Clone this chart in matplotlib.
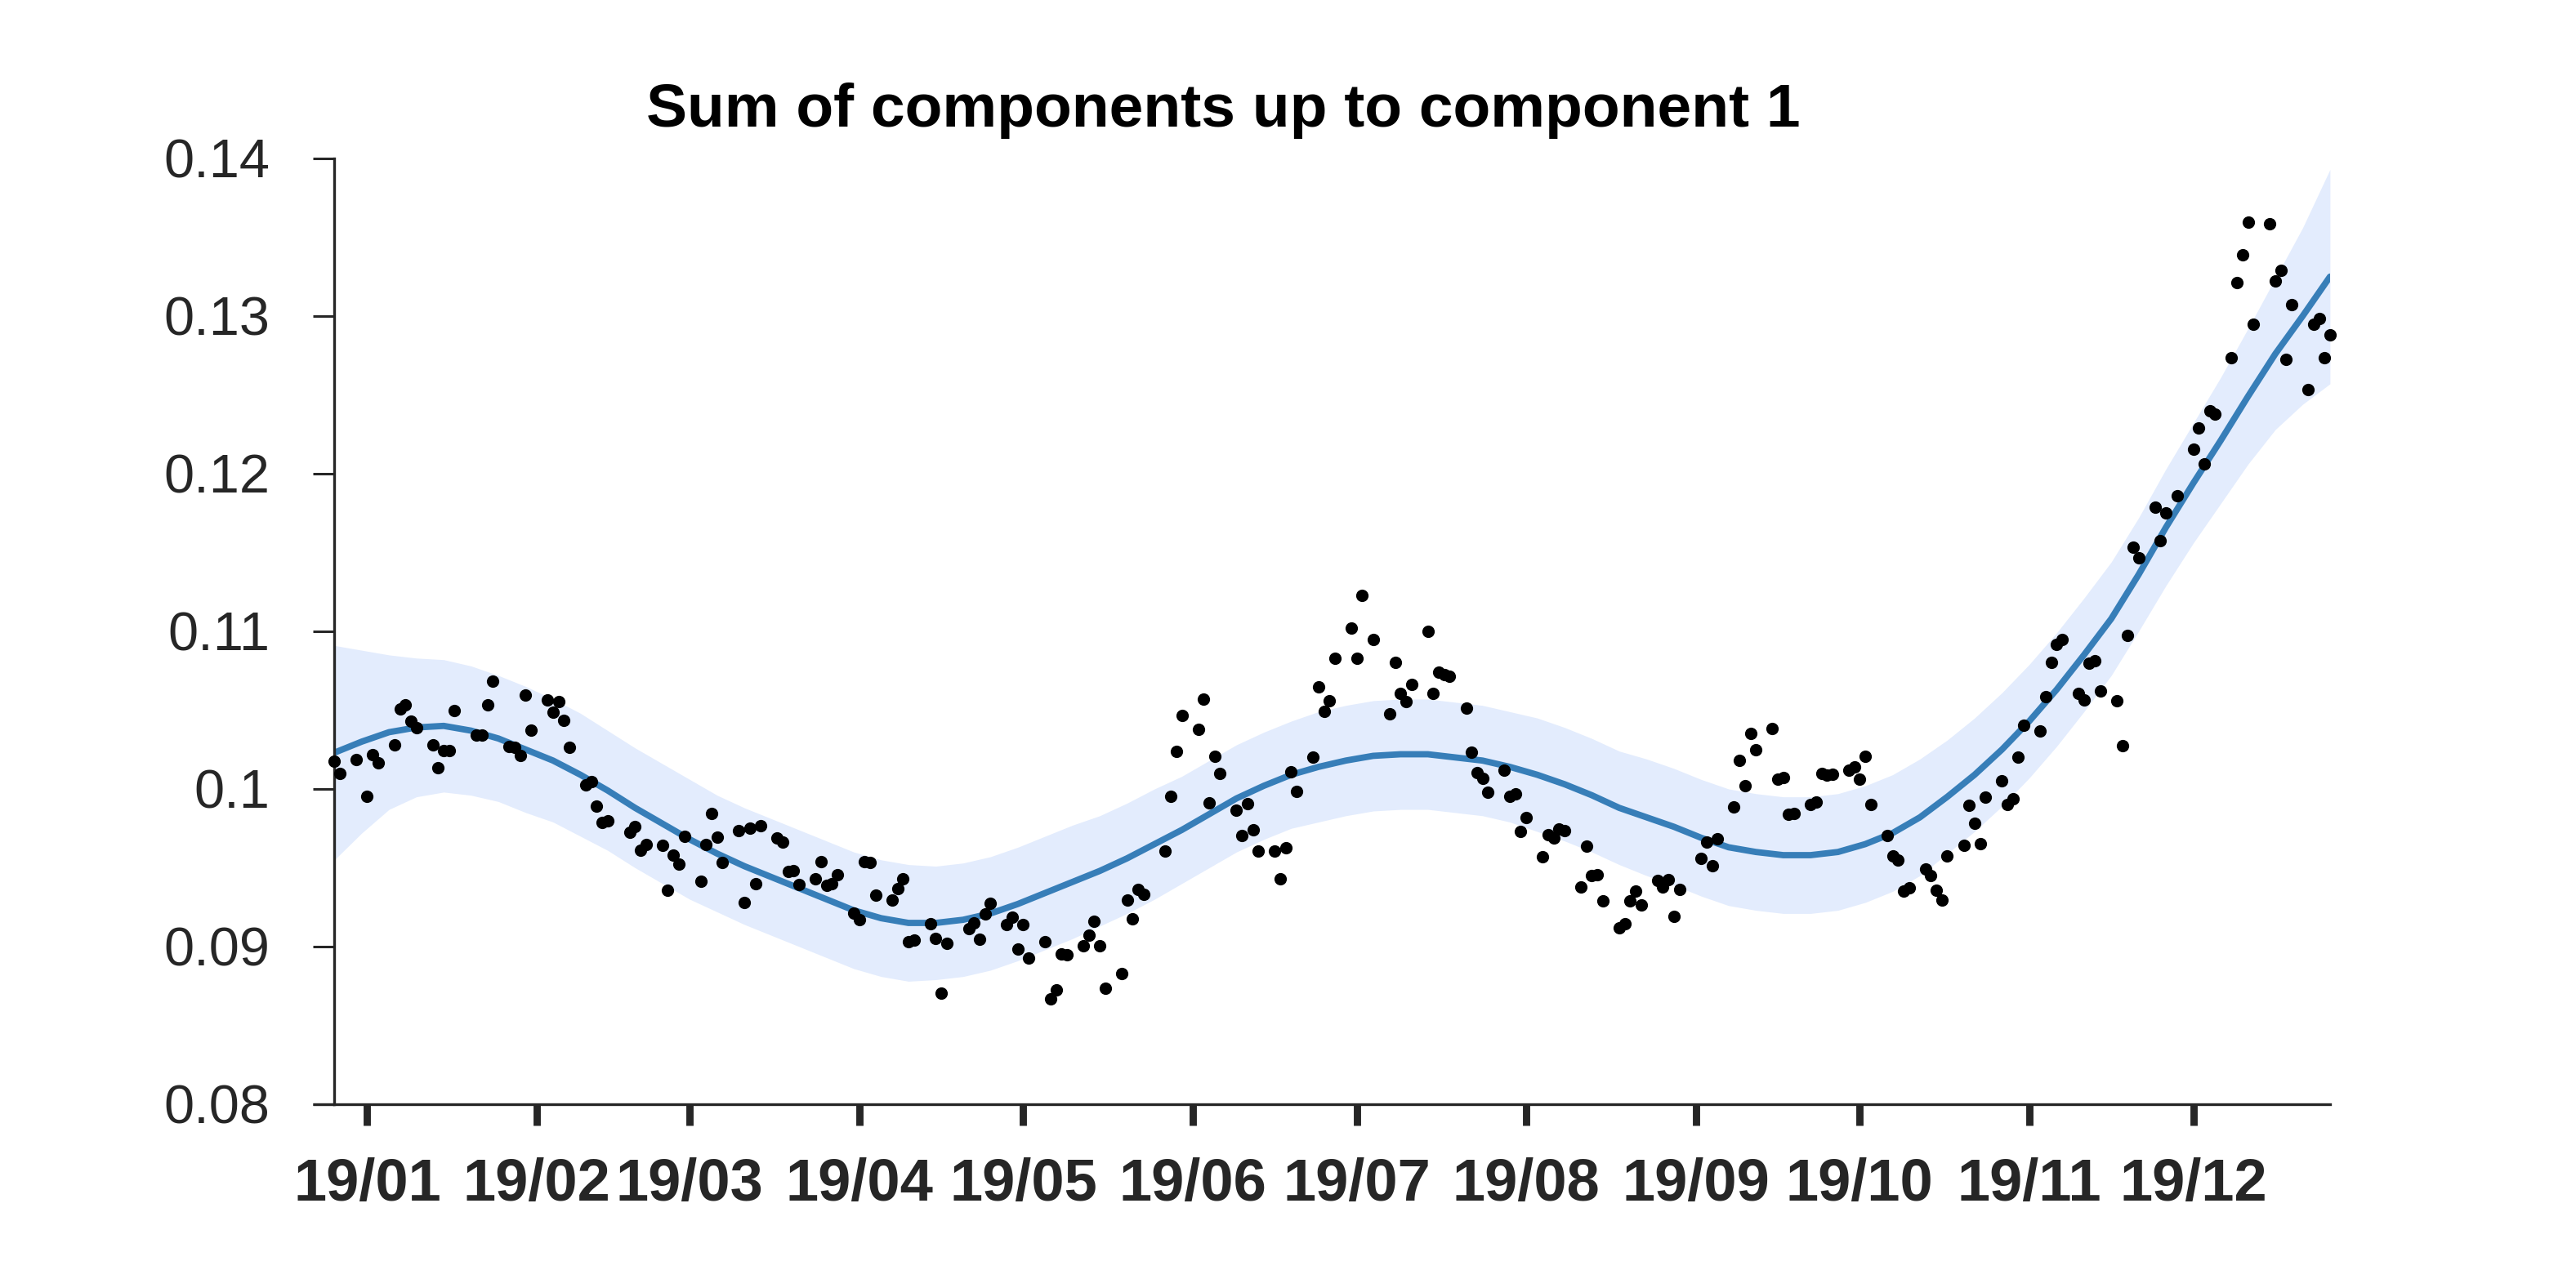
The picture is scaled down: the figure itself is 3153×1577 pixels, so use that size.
import numpy as np
import pandas as pd
import matplotlib
matplotlib.use("Agg")
import matplotlib.pyplot as plt
from matplotlib.lines import Line2D

plt.rcParams['font.family'] = ['Liberation Sans', 'DejaVu Sans']

# ---- data: observations (day offset from 2019-01-01, value) ----
obs_days = [-6, -5, -2, 0, 1, 2, 5, 6, 7, 8, 9, 12, 13, 14, 15, 16, 20, 21, 22, 23,
            26, 27, 28, 29, 30, 33, 34, 35, 36, 37, 40, 41, 42, 43, 44, 48, 49, 50, 51,
            54, 55, 56, 57, 58, 61, 62, 63, 64, 65, 68, 69, 70, 71, 72, 75, 76, 77, 78, 79,
            82, 83, 84, 85, 86, 89, 90, 91, 92, 93, 96, 97, 98, 99, 100, 103, 104, 105, 106,
            110, 111, 112, 113, 114, 117, 118, 119, 120, 121, 124, 125, 126, 127, 128,
            131, 132, 133, 134, 135, 138, 139, 140, 141, 142, 146, 147, 148, 149,
            152, 153, 154, 155, 156, 159, 160, 161, 162, 163, 166, 167, 168, 169, 170,
            173, 174, 175, 176, 177, 180, 181, 182, 184, 187, 188, 189, 190, 191,
            194, 195, 196, 197, 198, 201, 202, 203, 204, 205, 208, 209, 210, 211, 212,
            215, 216, 217, 218, 219, 222, 223, 224, 225, 226, 229, 230, 231, 232, 233,
            236, 237, 238, 239, 240, 244, 245, 246, 247, 250, 251, 252, 253, 254,
            257, 258, 259, 260, 261, 264, 265, 266, 267, 268, 271, 272, 273, 274, 275,
            278, 279, 280, 281, 282, 285, 286, 287, 288, 289, 292, 293, 294, 295, 296,
            299, 300, 301, 302, 303, 306, 307, 308, 309, 310, 313, 314, 315, 316, 317,
            320, 321, 322, 323, 324, 327, 328, 329, 331, 334, 335, 336, 337, 338,
            341, 342, 343, 344, 345, 348, 349, 350, 351, 352, 355, 356, 357, 358, 359]

obs_values = [0.10178, 0.10100, 0.10188, 0.09953, 0.10218, 0.10164, 0.10278, 0.10509, 0.10534, 0.10430,
              0.10387, 0.10278, 0.10133, 0.10244, 0.10244, 0.10499, 0.10340, 0.10344, 0.10534, 0.10684,
              0.10269, 0.10264, 0.10214, 0.10594, 0.10373, 0.10563, 0.10489, 0.10554, 0.10434, 0.10264,
              0.10024, 0.10048, 0.09893, 0.09788, 0.09798, 0.09725, 0.09760, 0.09613, 0.09648,
              0.09642, 0.09358, 0.09579, 0.09522, 0.09699, 0.09415, 0.09648, 0.09843, 0.09694, 0.09535,
              0.09734, 0.09282, 0.09751, 0.09397, 0.09769, 0.09687, 0.09661, 0.09478, 0.09484, 0.09392,
              0.09428, 0.09539, 0.09387, 0.09401, 0.09454, 0.09212, 0.09169, 0.09539, 0.09532, 0.09325,
              0.09297, 0.09370, 0.09428, 0.09029, 0.09040, 0.09143, 0.09052, 0.08706, 0.09022,
              0.09112, 0.09152, 0.09047, 0.09207, 0.09273, 0.09138, 0.09187, 0.08983, 0.09142, 0.08927,
              0.09029, 0.08667, 0.08724, 0.08952, 0.08948, 0.09005, 0.09073, 0.09161, 0.09003, 0.08738,
              0.08827, 0.09294, 0.09178, 0.09360, 0.09333, 0.09608, 0.09953, 0.10238, 0.10465,
              0.10378, 0.10570, 0.09912, 0.10209, 0.10097, 0.09864, 0.09705, 0.09907, 0.09739, 0.09604,
              0.09608, 0.09432, 0.09627, 0.10109, 0.09984, 0.10204, 0.10649, 0.10492, 0.10558, 0.10827,
              0.11019, 0.10827, 0.11228, 0.10948, 0.10478, 0.10803, 0.10606, 0.10554, 0.10661,
              0.11002, 0.10606, 0.10741, 0.10724, 0.10715, 0.10515, 0.10235, 0.10105, 0.10067, 0.09979,
              0.10119, 0.09953, 0.09971, 0.09729, 0.09819, 0.09570, 0.09708, 0.09687, 0.09748, 0.09734,
              0.09380, 0.09639, 0.09449, 0.09458, 0.09288, 0.09121, 0.09147, 0.09288, 0.09354, 0.09263,
              0.09420, 0.09380, 0.09423, 0.09193, 0.09363, 0.09561, 0.09665, 0.09511, 0.09682,
              0.09884, 0.10180, 0.10019, 0.10351, 0.10250, 0.10385, 0.10062, 0.10071, 0.09838, 0.09843,
              0.09902, 0.09915, 0.10097, 0.10088, 0.10093, 0.10119, 0.10140, 0.10062, 0.10209, 0.09903,
              0.09705, 0.09573, 0.09549, 0.09354, 0.09371, 0.09492, 0.09449, 0.09359, 0.09294, 0.09573,
              0.09640, 0.09895, 0.09780, 0.09651, 0.09950, 0.10054, 0.09900, 0.09939, 0.10201, 0.10404,
              0.10370, 0.10584, 0.10805, 0.10916, 0.10949, 0.10604, 0.10567, 0.10800, 0.10811, 0.10619,
              0.10561, 0.10275, 0.10975, 0.11531, 0.11465, 0.11788, 0.11575, 0.11753, 0.11862,
              0.12155, 0.12291, 0.12064, 0.12400, 0.12377, 0.12735, 0.13210, 0.13389, 0.13595, 0.12950,
              0.13585, 0.13223, 0.13288, 0.12725, 0.13073, 0.12534, 0.12948, 0.12986, 0.12736, 0.12879]

# ---- data: fitted component sum (every 5 days) and half-width of its band ----
fit_days = [-6, -1, 4, 9, 14, 19, 24, 29, 34, 39, 44, 49, 54, 59, 64, 69, 74, 79, 84, 89,
            94, 99, 104, 109, 114, 119, 124, 129, 134, 139, 144, 149, 154, 159, 164, 169,
            174, 179, 184, 189, 194, 199, 204, 209, 214, 219, 224, 229, 234, 239, 244, 249,
            254, 259, 264, 269, 274, 279, 284, 289, 294, 299, 304, 309, 314, 319, 324, 329,
            334, 339, 344, 349, 354, 359]
fit_mean = [0.1023, 0.1030, 0.1036, 0.1039, 0.1040, 0.1037, 0.1032, 0.1025, 0.1018, 0.1009,
            0.0999, 0.0988, 0.0978, 0.0968, 0.0959, 0.0951, 0.0944, 0.0937, 0.0930, 0.0923,
            0.0918, 0.0915, 0.0915, 0.0917, 0.0921, 0.0927, 0.0934, 0.0941, 0.0948, 0.0956,
            0.0965, 0.0974, 0.0984, 0.0994, 0.1002, 0.1009, 0.1014, 0.1018, 0.1021, 0.1022,
            0.1022, 0.1020, 0.1018, 0.1014, 0.1009, 0.1003, 0.0996, 0.0988, 0.0982, 0.0976,
            0.0969, 0.0963, 0.0960, 0.0958, 0.0958, 0.0960, 0.0965, 0.0972, 0.0982, 0.0995,
            0.1009, 0.1025, 0.1043, 0.1063, 0.1085, 0.1108, 0.1136, 0.1166, 0.1194, 0.1221,
            0.1249, 0.1276, 0.1300, 0.1325]
fit_halfwidth = [0.0068, 0.0058, 0.0049, 0.0044, 0.0042, 0.0041, 0.0040, 0.0040, 0.0039, 0.0039,
                 0.0038, 0.0038, 0.0038, 0.0038, 0.0037, 0.0037, 0.0037, 0.0037, 0.0037, 0.0037,
                 0.0037, 0.0037, 0.0036, 0.0036, 0.0036, 0.0036, 0.0036, 0.0036, 0.0035, 0.0035,
                 0.0035, 0.0034, 0.0034, 0.0034, 0.0034, 0.0034, 0.0035, 0.0035, 0.0035, 0.0035,
                 0.0035, 0.0035, 0.0035, 0.0035, 0.0036, 0.0036, 0.0036, 0.0036, 0.0037, 0.0037,
                 0.0037, 0.0037, 0.0037, 0.0037, 0.0037, 0.0037, 0.0037, 0.0037, 0.0037, 0.0036,
                 0.0036, 0.0036, 0.0036, 0.0036, 0.0036, 0.0036, 0.0036, 0.0037, 0.0038, 0.0040,
                 0.0043, 0.0048, 0.0056, 0.0068]

month_ticks = pd.date_range('2019-01-01', periods=12, freq='MS')
month_labels = [d.strftime('%y/%m') for d in month_ticks]
y_ticks = [0.08, 0.09, 0.10, 0.11, 0.12, 0.13, 0.14]
y_labels = ['0.08', '0.09', '0.1', '0.11', '0.12', '0.13', '0.14']
title = 'Sum of components up to component 1'

base = pd.Timestamp('2019-01-01')
obs_dates = base + pd.to_timedelta(obs_days, unit='D')
fit_dates = base + pd.to_timedelta(fit_days, unit='D')
mean = np.array(fit_mean)
hw = np.array(fit_halfwidth)

fig = plt.figure(figsize=(3153 / 200, 1577 / 200), dpi=200)
ax = fig.add_axes([0.1298, 0.1427, 0.7747, 0.7343])

ax.fill_between(fit_dates, mean - hw, mean + hw, color='#e3ecfd', lw=0, zorder=1)
ax.plot(fit_dates, mean, color='#377eb8', lw=2.8, zorder=2, solid_capstyle='round',
        solid_joinstyle='round')
ax.scatter(obs_dates, obs_values, s=30, color='black', lw=0, zorder=3, clip_on=False)

ax.set_xlim(fit_dates[0], fit_dates[-1])
ax.set_ylim(0.08, 0.14)

ax.set_xticks(month_ticks)
ax.set_xticklabels(month_labels, fontsize=26, fontweight='bold', color='#262626')
ax.set_yticks(y_ticks)
ax.set_yticklabels(y_labels, fontsize=24, color='#262626')

for s in ['top', 'right']:
    ax.spines[s].set_visible(False)
for s in ['left', 'bottom']:
    ax.spines[s].set_linewidth(1.2)
    ax.spines[s].set_color('#262626')

ax.tick_params(axis='x', direction='out', length=9.4, width=3.2, pad=14, colors='#262626')
ax.tick_params(axis='y', direction='out', length=9.4, width=1.1, pad=19, colors='#262626')

# bottom axis line extends under the y tick marks
ext = 26 / (0.7747 * 3153)
ax.add_line(Line2D([-ext, 0], [0, 0], transform=ax.transAxes, color='#262626',
                   lw=1.2, clip_on=False, solid_capstyle='butt'))

fig.text(0.475, 0.9017, title, ha='center', va='baseline', fontsize=27, fontweight='bold')

fig.savefig('out.png', dpi=200, facecolor='white')
